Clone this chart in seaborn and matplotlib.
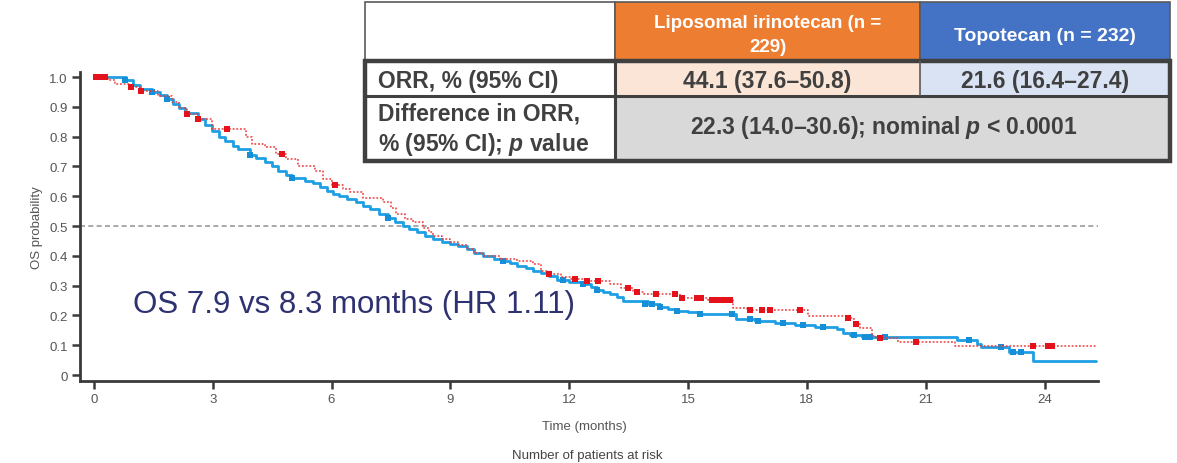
import numpy as np
import pandas as pd
import matplotlib
matplotlib.use("Agg")
import matplotlib.pyplot as plt
from matplotlib.patches import Rectangle
import seaborn as sns

# ---------------- data ----------------
topo_t = [0, 0.8, 1.0, 1.16, 1.46, 1.67, 1.84, 2.0, 2.15, 2.3, 2.63, 2.8, 2.97, 3.15, 3.31,
          3.5, 3.64, 3.94, 4.1, 4.32, 4.5, 4.65, 4.85, 4.99, 5.33, 5.54, 5.7, 5.88, 6.04,
          6.2, 6.4, 6.63, 6.8, 6.97, 7.2, 7.43, 7.6, 7.8, 7.95, 8.15, 8.35, 8.56, 8.8, 8.99,
          9.2, 9.41, 9.6, 9.83, 10.1, 10.33, 10.5, 10.67, 10.9, 11.09, 11.3, 11.5, 11.7,
          12.0, 12.35, 12.55, 12.7, 12.85, 13.03, 13.2, 13.36, 14.0, 14.3, 14.5, 14.71,
          15.0, 15.3, 16.2, 16.7, 17.2, 17.7, 18.2, 18.75, 18.9, 19.1, 19.4, 21.8, 22.3,
          22.4, 23.1, 23.7, 25.3]
topo_s = [1.0, 0.99, 0.975, 0.96, 0.949, 0.94, 0.926, 0.91, 0.895, 0.88, 0.86, 0.84, 0.82,
          0.80, 0.786, 0.77, 0.758, 0.738, 0.728, 0.715, 0.70, 0.686, 0.672, 0.661, 0.652,
          0.645, 0.632, 0.619, 0.607, 0.602, 0.59, 0.58, 0.568, 0.557, 0.54, 0.527, 0.515,
          0.501, 0.49, 0.48, 0.468, 0.456, 0.446, 0.44, 0.432, 0.423, 0.41, 0.40, 0.39,
          0.384, 0.375, 0.367, 0.358, 0.35, 0.342, 0.333, 0.32, 0.312, 0.305, 0.295, 0.286,
          0.278, 0.272, 0.262, 0.25, 0.24, 0.23, 0.222, 0.216, 0.21, 0.205, 0.188, 0.182,
          0.174, 0.168, 0.16, 0.154, 0.141, 0.134, 0.128, 0.117, 0.104, 0.093, 0.078, 0.048,
          0.048]
topo_cens_t = [0.28, 0.78, 1.46, 1.84, 3.94, 4.99, 7.43, 10.33, 11.85, 12.35, 12.69, 13.91,
               14.08, 14.3, 14.71, 15.3, 16.1, 16.57, 16.77, 17.4, 17.9, 18.4, 19.2, 19.47,
               19.6, 19.97, 22.1, 22.9, 23.2, 23.4]
topo_cens_s = [1.0, 0.99, 0.949, 0.926, 0.738, 0.661, 0.527, 0.384, 0.32, 0.305, 0.286, 0.24,
               0.24, 0.23, 0.216, 0.205, 0.205, 0.188, 0.182, 0.174, 0.168, 0.16, 0.134,
               0.128, 0.128, 0.128, 0.117, 0.093, 0.078, 0.078]

lipo_t = [0, 0.35, 0.53, 0.9, 1.2, 1.62, 1.96, 2.15, 2.34, 2.63, 2.97, 3.85, 4.0, 4.32, 4.6,
          4.85, 5.15, 5.58, 5.79, 6.0, 6.3, 6.46, 6.8, 7.3, 7.5, 7.64, 7.85, 8.06, 8.31, 8.45,
          8.56, 8.8, 8.99, 9.2, 9.41, 9.6, 9.83, 10.25, 10.67, 11.09, 11.3, 11.5, 11.8, 12.05,
          12.5, 13.03, 13.3, 13.6, 13.9, 14.8, 15.5, 16.14, 16.5, 18.03, 19.0, 19.2, 19.34,
          19.64, 19.75, 20.3, 21.74, 25.3]
lipo_s = [1.0, 0.99, 0.977, 0.965, 0.954, 0.937, 0.915, 0.895, 0.876, 0.859, 0.826, 0.80,
          0.775, 0.765, 0.742, 0.725, 0.702, 0.686, 0.658, 0.638, 0.625, 0.614, 0.594, 0.58,
          0.56, 0.54, 0.525, 0.513, 0.495, 0.48, 0.467, 0.455, 0.447, 0.435, 0.423, 0.41,
          0.40, 0.39, 0.384, 0.372, 0.35, 0.339, 0.328, 0.322, 0.315, 0.305, 0.291, 0.28,
          0.272, 0.26, 0.252, 0.224, 0.219, 0.199, 0.19, 0.171, 0.157, 0.132, 0.123, 0.11,
          0.096, 0.096]
lipo_cens_t = [0.05, 0.15, 0.28, 0.95, 1.2, 2.34, 2.63, 3.35, 4.74, 6.09, 11.5, 12.15, 12.44,
               12.73, 13.49, 13.7, 14.2, 14.67, 14.84, 15.22, 15.34, 15.6, 15.75, 15.9, 16.06,
               16.57, 16.86, 17.07, 17.83, 19.05, 19.24, 19.85, 20.75, 23.7, 24.1, 24.2]
lipo_cens_s = [1.0, 1.0, 1.0, 0.965, 0.954, 0.876, 0.859, 0.826, 0.742, 0.638, 0.339, 0.322,
               0.315, 0.315, 0.291, 0.28, 0.272, 0.272, 0.26, 0.26, 0.26, 0.252, 0.252, 0.252,
               0.252, 0.219, 0.219, 0.219, 0.219, 0.19, 0.171, 0.123, 0.11, 0.096, 0.096, 0.096]

x_ticks = [0, 3, 6, 9, 12, 15, 18, 21, 24]
y_ticks = [0, 0.1, 0.2, 0.3, 0.4, 0.5, 0.6, 0.7, 0.8, 0.9, 1.0]
y_tick_labels = ["0", "0.1", "0.2", "0.3", "0.4", "0.5", "0.6", "0.7", "0.8", "0.9", "1.0"]

table_header = ["Liposomal irinotecan (n =\n229)", "Topotecan (n = 232)"]
row_labels = ["ORR, % (95% CI)", "Difference in ORR,\n% (95% CI); $\\mathit{p}$ value"]
orr_values = ["44.1 (37.6\u201350.8)", "21.6 (16.4\u201327.4)"]
diff_value = "22.3 (14.0\u201330.6); nominal $\\mathit{p}$ < 0.0001"
annotation = "OS 7.9 vs 8.3 months (HR 1.11)"

# ---------------- style ----------------
sns.set_theme(style="ticks")
plt.rcParams["font.family"] = ["Liberation Sans", "DejaVu Sans"]
plt.rcParams["mathtext.fontset"] = "custom"
plt.rcParams["mathtext.it"] = "Liberation Sans:italic:bold"
plt.rcParams["mathtext.rm"] = "Liberation Sans:bold"

BLUE = "#1e9fe3"
RED = "#e3121b"
W, H = 1177, 464

fig = plt.figure(figsize=(W / 100, H / 100), dpi=100)
ax = fig.add_axes([80 / W, 1 - 382 / H, (1098 - 80) / W, (382 - 73) / H])

topo_df = pd.DataFrame({"t": topo_t, "s": topo_s})
lipo_df = pd.DataFrame({"t": lipo_t, "s": lipo_s})

ax.axhline(0.5, color="#9a9a9a", lw=1.2, ls=(0, (3, 2)), zorder=1)

sns.lineplot(data=topo_df, x="t", y="s", drawstyle="steps-post", estimator=None, sort=False,
             color=BLUE, lw=2.0, ax=ax, legend=False, zorder=2)
sns.scatterplot(x=topo_cens_t, y=topo_cens_s, marker="s", s=15, color="#1590d8",
                linewidth=0, ax=ax, legend=False, zorder=3)
sns.lineplot(data=lipo_df, x="t", y="s", drawstyle="steps-post", estimator=None, sort=False,
             color="#ee3b3b", lw=1.1, ls=(0, (1.2, 1.2)), ax=ax, legend=False, zorder=4)
sns.scatterplot(x=lipo_cens_t, y=lipo_cens_s, marker="s", s=15, color=RED,
                linewidth=0, ax=ax, legend=False, zorder=5)

ax.set_xlim(-0.35, 25.35)
ax.set_ylim(-0.02, 1.017)
ax.set_xticks(x_ticks)
ax.set_xticklabels([str(v) for v in x_ticks])
ax.set_yticks(y_ticks)
ax.set_yticklabels(y_tick_labels)
for side in ["top", "right"]:
    ax.spines[side].set_visible(False)
for side in ["left", "bottom"]:
    ax.spines[side].set_linewidth(2.0)
    ax.spines[side].set_color("#3a3a3a")
ax.tick_params(axis="both", direction="out", length=6, width=1.8, color="#3a3a3a",
               labelsize=9.5, labelcolor="#555555", pad=3)

ax.set_ylabel("OS probability", fontsize=9.5, color="#555555")
ax.yaxis.set_label_coords(-0.036, 0.5)
ax.set_xlabel("Time (months)", fontsize=9.5, color="#555555", va="top")
ax.xaxis.set_label_coords(0.495, -0.126)

fig.text(587 / W, 1 - 456 / H, "Number of patients at risk", ha="center", va="center",
         fontsize=9.5, color="#444444")
fig.text(133 / W, 1 - 305 / H, annotation, ha="left", va="center", fontsize=22.5,
         color="#2e3270")

# ---------------- table overlay ----------------
tax = fig.add_axes([0, 0, 1, 1])
tax.set_xlim(0, W)
tax.set_ylim(H, 0)
tax.axis("off")
tax.set_zorder(10)

cx = [365, 615, 920, 1170]
ry = [3, 62, 97, 162]
TXT = "#404040"

def cell(x0, y0, x1, y1, fc, ec="none", lw=0):
    tax.add_patch(Rectangle((x0, y0), x1 - x0, y1 - y0, facecolor=fc, edgecolor=ec, lw=lw))

cell(cx[0], ry[0], cx[1], ry[1], "white", "#5a5a5a", 1.2)
cell(cx[1], ry[0], cx[2], ry[1], "#ed7d31", "#5a5a5a", 1.2)
cell(cx[2], ry[0], cx[3], ry[1], "#4472c4", "#5a5a5a", 1.2)
cell(cx[0], ry[1], cx[1], ry[2], "white")
cell(cx[1], ry[1], cx[2], ry[2], "#fbe5d6")
cell(cx[2], ry[1], cx[3], ry[2], "#dae3f3")
cell(cx[0], ry[2], cx[1], ry[3], "white")
cell(cx[1], ry[2], cx[3], ry[3], "#d9d9d9")
tax.plot([cx[1], cx[1]], [ry[1], ry[3]], color=TXT, lw=2.2)
tax.plot([cx[0], cx[3]], [ry[2], ry[2]], color=TXT, lw=2.2)
tax.plot([cx[2], cx[2]], [ry[1], ry[2]], color="#5a5a5a", lw=1.2)
tax.add_patch(Rectangle((cx[0], ry[1]), cx[3] - cx[0], ry[3] - ry[1], facecolor="none",
                        edgecolor=TXT, lw=3.2))

FS = 16.5
tax.text((cx[1] + cx[2]) / 2, (ry[0] + ry[1]) / 2 + 3, table_header[0], ha="center",
         va="center", color="white", fontsize=13.5, fontweight="bold", linespacing=1.5)
tax.text((cx[2] + cx[3]) / 2, (ry[0] + ry[1]) / 2 + 4, table_header[1], ha="center",
         va="center", color="white", fontsize=14, fontweight="bold")
tax.text(cx[0] + 13, (ry[1] + ry[2]) / 2 + 2, row_labels[0], ha="left", va="center",
         color=TXT, fontsize=FS, fontweight="bold")
tax.text(cx[0] + 13, (ry[2] + ry[3]) / 2 + 1, row_labels[1], ha="left", va="center",
         color=TXT, fontsize=FS, fontweight="bold", linespacing=1.25)
tax.text((cx[1] + cx[2]) / 2, (ry[1] + ry[2]) / 2 + 2, orr_values[0], ha="center",
         va="center", color=TXT, fontsize=FS, fontweight="bold")
tax.text((cx[2] + cx[3]) / 2, (ry[1] + ry[2]) / 2 + 2, orr_values[1], ha="center",
         va="center", color=TXT, fontsize=FS, fontweight="bold")
tax.text((cx[1] + cx[3]) / 2 - 9, (ry[2] + ry[3]) / 2 - 2, diff_value, ha="center",
         va="center", color=TXT, fontsize=FS, fontweight="bold")

fig.savefig("out.png", dpi=100)
